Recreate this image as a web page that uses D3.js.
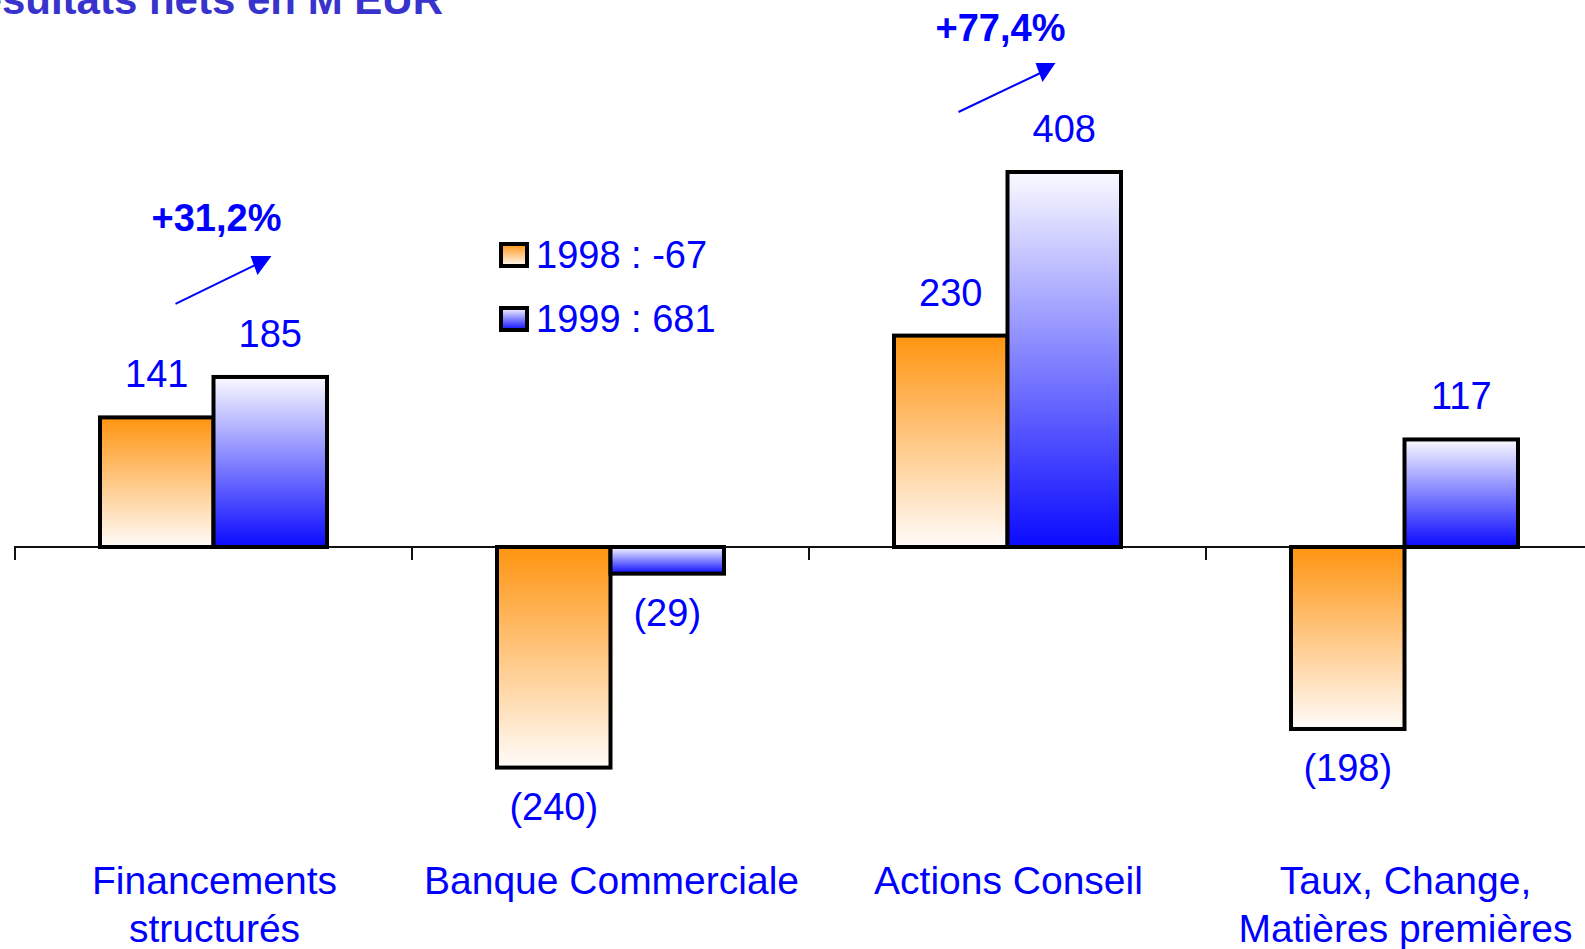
<!DOCTYPE html>
<html><head><meta charset="utf-8">
<script src="https://cdn.jsdelivr.net/npm/d3@7"></script>
<style>
html,body{margin:0;padding:0;background:#fff;overflow:hidden}
svg{display:block;font-family:Arial,"Liberation Sans",sans-serif}
</style></head><body>
<svg id="c" width="1585" height="949"></svg>
<script>
const categories = [["Financements","structurés"],["Banque Commerciale"],["Actions Conseil"],["Taux, Change,","Matières premières"]];
const categoryKeys = ["Financements structurés","Banque Commerciale","Actions Conseil","Taux, Change, Matières premières"];
const seriesNames = ["1998","1999"];
const values1998 = [141,-240,230,-198];
const values1999 = [185,-29,408,117];
const legendLabels = ["1998 : -67","1999 : 681"];
const annotationCats = ["Financements structurés","Actions Conseil"];
const annotationTexts = ["+31,2%","+77,4%"];
const titleText = "Résultats nets en M EUR";

const svg = d3.select("#c");
const blue = "#0000ff";

// gradients
const defs = svg.append("defs");
const g98 = defs.append("linearGradient").attr("id","g1998").attr("x1",0).attr("y1",0).attr("x2",0).attr("y2",1);
g98.append("stop").attr("offset","0%").attr("stop-color","#ff9410");
g98.append("stop").attr("offset","100%").attr("stop-color","#fffcfa");
const g99 = defs.append("linearGradient").attr("id","g1999").attr("x1",0).attr("y1",0).attr("x2",0).attr("y2",1);
g99.append("stop").attr("offset","0%").attr("stop-color","#fafaff");
g99.append("stop").attr("offset","100%").attr("stop-color","#0a0aff");

const x = d3.scaleBand().domain(categoryKeys).range([15, 15 + 4*397]).padding(0);
const barW = 113.5;
const xs = d3.scaleBand().domain(seriesNames).range([0, 2*barW]);
const y = d3.scaleLinear().domain([0, 408]).range([547, 172]);

// title (cut off at the top-left edge, as in the original slide)
svg.append("text").attr("x",443).attr("y",14).attr("text-anchor","end")
  .attr("font-size",42).attr("font-weight","bold").attr("fill","#3833cc").text(titleText);

// axis
const axis = d3.axisBottom(x).tickSize(13).tickFormat("");
const ag = svg.append("g").attr("transform",`translate(0,${y(0)})`).call(axis);
ag.selectAll("line,path").attr("stroke","#111").attr("stroke-width",2);
ag.select(".domain").attr("d",`M15,13V0H1603V13`);
ag.selectAll(".tick").remove();
const bounds = categoryKeys.map(c => x(c));
ag.selectAll(".bt").data(bounds).enter().append("line")
  .attr("x1",d=>d).attr("x2",d=>d).attr("y1",0).attr("y2",13)
  .attr("stroke","#111").attr("stroke-width",2);

// bars
const rows = categoryKeys.map((c,i)=>({cat:c, v:[values1998[i], values1999[i]]}));
const data = [];
rows.forEach(r => seriesNames.forEach((s,j)=>data.push({cat:r.cat, s, v:r.v[j]})));
const cx = d => x(d.cat) + x.bandwidth()/2 - barW + xs(d.s);

svg.append("g").selectAll("rect").data(data).enter().append("rect")
  .attr("x", cx).attr("width", barW)
  .attr("y", d => y(Math.max(0,d.v))).attr("height", d => Math.abs(y(d.v)-y(0)))
  .attr("fill", d => `url(#g${d.s})`).attr("stroke","#000").attr("stroke-width",4);

// value labels
svg.append("g").selectAll("text").data(data).enter().append("text")
  .attr("x", d => cx(d) + barW/2)
  .attr("y", d => d.v >= 0 ? y(d.v) - 30 : y(d.v) + 52)
  .attr("text-anchor","middle").attr("font-size",38).attr("fill",blue)
  .text(d => d.v >= 0 ? d.v : `(${-d.v})`);

// category labels
const cl = svg.append("g").selectAll("text").data(categories).enter().append("text")
  .attr("x",(d,i)=>x(categoryKeys[i]) + x.bandwidth()/2 + 1)
  .attr("y",894).attr("text-anchor","middle").attr("font-size",39).attr("fill",blue);
cl.selectAll("tspan").data(d=>d).enter().append("tspan")
  .attr("x",function(){return d3.select(this.parentNode).attr("x");})
  .attr("dy",(d,i)=>i===0?0:48).text(d=>d);

// legend
const lg = svg.append("g");
legendLabels.forEach((t,i)=>{
  const yy = 244 + i*64;
  lg.append("rect").attr("x",501).attr("y",yy).attr("width",26).attr("height",22)
    .attr("fill",`url(#g${seriesNames[i]})`).attr("stroke","#000").attr("stroke-width",4);
  lg.append("text").attr("x",536).attr("y",yy+24).attr("font-size",38).attr("fill",blue).text(t);
});

// annotations (relative to 1999 bar tops)
const annLayout = [
  {tx:3, ty:-146, lx1:-38, ly1:-73, lx2:42, ly2:-112, tri:[[37,-121],[58,-121],[44,-102]]},
  {tx:-7, ty:-131, lx1:-49, ly1:-60, lx2:33, ly2:-99, tri:[[28,-109],[48,-109],[35,-90]]}
];
annotationCats.forEach((c,i)=>{
  const cxm = x(c) + x.bandwidth()/2;
  const top = y(values1999[categoryKeys.indexOf(c)]);
  const L = annLayout[i];
  svg.append("text").attr("x",cxm + L.tx).attr("y",top+L.ty).attr("text-anchor","middle")
    .attr("font-size",38).attr("font-weight","bold").attr("fill",blue).text(annotationTexts[i]);
  svg.append("line").attr("x1",cxm+L.lx1).attr("y1",top+L.ly1).attr("x2",cxm+L.lx2).attr("y2",top+L.ly2)
    .attr("stroke",blue).attr("stroke-width",2);
  svg.append("polygon").attr("points",L.tri.map(p=>[cxm+p[0],top+p[1]].join(",")).join(" ")).attr("fill",blue);
});
</script>
</body></html>
